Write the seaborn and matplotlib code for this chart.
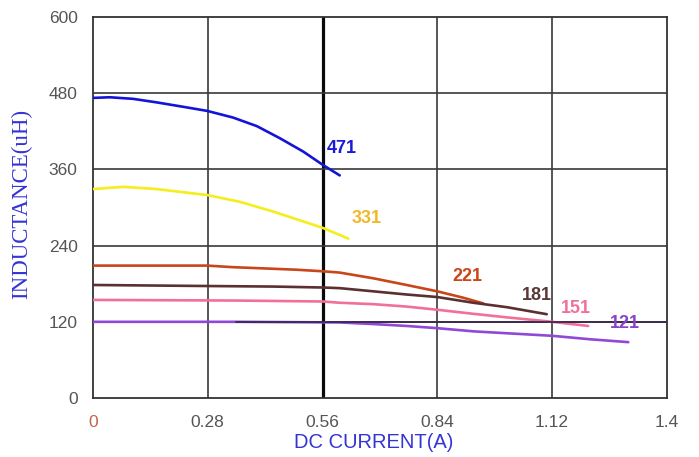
import matplotlib
matplotlib.use("Agg")
import matplotlib.pyplot as plt
import seaborn as sns
import pandas as pd

# Inductance (uH) vs DC current (A) for each part code
current_471 = [0.0, 0.041, 0.098, 0.155, 0.22, 0.279, 0.342, 0.40, 0.456, 0.513, 0.562, 0.602]
induct_471 = [472.5, 473.5, 471, 465.5, 458.5, 452, 441.5, 428, 409, 388, 366.5, 350.5]

current_331 = [0.0, 0.074, 0.155, 0.279, 0.358, 0.44, 0.513, 0.562, 0.623]
induct_331 = [329, 332.5, 329, 319.5, 309, 293.5, 278, 267.5, 251]

current_221 = [0.0, 0.279, 0.342, 0.44, 0.497, 0.562, 0.602, 0.684, 0.765, 0.84, 0.903, 0.952]
induct_221 = [208.5, 208.5, 206, 203.5, 202, 199.5, 197.5, 188.5, 178, 168, 158, 149]

current_181 = [0.0, 0.255, 0.44, 0.562, 0.602, 0.684, 0.765, 0.84, 0.928, 1.01, 1.107]
induct_181 = [178, 176.5, 175.5, 174, 173, 168, 163, 159, 150, 143, 132]

current_151 = [0.0, 0.346, 0.562, 0.602, 0.684, 0.765, 0.84, 0.928, 1.01, 1.097, 1.12, 1.208]
induct_151 = [154.5, 153.5, 152, 150, 147.8, 144, 139, 132.6, 127, 121.5, 120, 113.5]

current_121 = [0.0, 0.35, 0.602, 0.684, 0.765, 0.84, 0.928, 1.01, 1.12, 1.213, 1.306]
induct_121 = [120, 120, 119, 116.5, 113.5, 110, 105, 102, 98, 92.5, 88]

series_names = ["471", "331", "221", "181", "151", "121"]
series_colors = ["#1414d8", "#f4ee1c", "#c8461a", "#5a3030", "#f07098", "#9048d8"]
label_colors = ["#1a1ad8", "#f0b828", "#c8461a", "#5a3a38", "#f0709a", "#8844cc"]
label_x = [0.607, 0.667, 0.914, 1.082, 1.178, 1.297]
label_y = [393.5, 282, 192, 162, 141.5, 117.5]

x_ticks = [0, 0.28, 0.56, 0.84, 1.12, 1.4]
x_tick_labels = ["0", "0.28", "0.56", "0.84", "1.12", "1.4"]
y_ticks = [0, 120, 240, 360, 480, 600]

frames = []
for name, xs, ys in [
    ("471", current_471, induct_471),
    ("331", current_331, induct_331),
    ("221", current_221, induct_221),
    ("181", current_181, induct_181),
    ("151", current_151, induct_151),
    ("121", current_121, induct_121),
]:
    frames.append(pd.DataFrame({"current": xs, "inductance": ys, "part": name}))
df = pd.concat(frames, ignore_index=True)

sns.set_style("white")
plt.rcParams["font.family"] = ["Liberation Sans", "DejaVu Sans"]

fig = plt.figure(figsize=(6.99, 4.57), dpi=100)
ax = fig.add_axes([0.133, 0.129, 0.821, 0.834])

# grid lines under the curves
grid_col = "#3a3a3a"
for xv in x_ticks[1:-1]:
    if abs(xv - 0.56) < 1e-9:
        ax.axvline(xv, color="#0a0a0a", lw=2.3, zorder=1)
    else:
        ax.axvline(xv, color=grid_col, lw=1.2, zorder=1)
for yv in y_ticks[1:-1]:
    ax.axhline(yv, color=grid_col, lw=1.2, zorder=1)

sns.lineplot(
    data=df, x="current", y="inductance", hue="part",
    hue_order=series_names, palette=series_colors,
    linewidth=1.9, legend=False, ax=ax, zorder=3, sort=False,
)

# the 120 line shows over the flat part of the 121 curve
ax.axhline(120, xmin=0.25, xmax=1.0, color="#3a2a50", lw=1.3, zorder=3.5)

for name, col, lx, ly in zip(series_names, label_colors, label_x, label_y):
    ax.text(lx, ly, name, color=col, fontsize=13, fontweight="bold",
            ha="center", va="center", zorder=4)

ax.set_xlim(0, 1.4)
ax.set_ylim(0, 600)
ax.set_xticks(x_ticks)
ax.set_xticklabels(x_tick_labels)
ax.set_yticks(y_ticks)
ax.tick_params(axis="both", length=0, labelsize=12.5, colors="#555555")
ax.tick_params(axis="x", pad=12)
ax.tick_params(axis="y", pad=11)
ax.get_xticklabels()[0].set_color("#c86048")

for sp in ax.spines.values():
    sp.set_color("#333333")
    sp.set_linewidth(1.3)

ax.set_xlabel("DC CURRENT(A)", color="#3434d4", fontsize=14.5)
ax.xaxis.set_label_coords(0.49, -0.092)
ax.set_ylabel("INDUCTANCE(uH)", color="#3434d4", fontsize=16.5,
              family=["Liberation Serif", "DejaVu Serif"])
ax.yaxis.set_label_coords(-0.106, 0.51)

fig.savefig("out.png", dpi=100, facecolor="white")
